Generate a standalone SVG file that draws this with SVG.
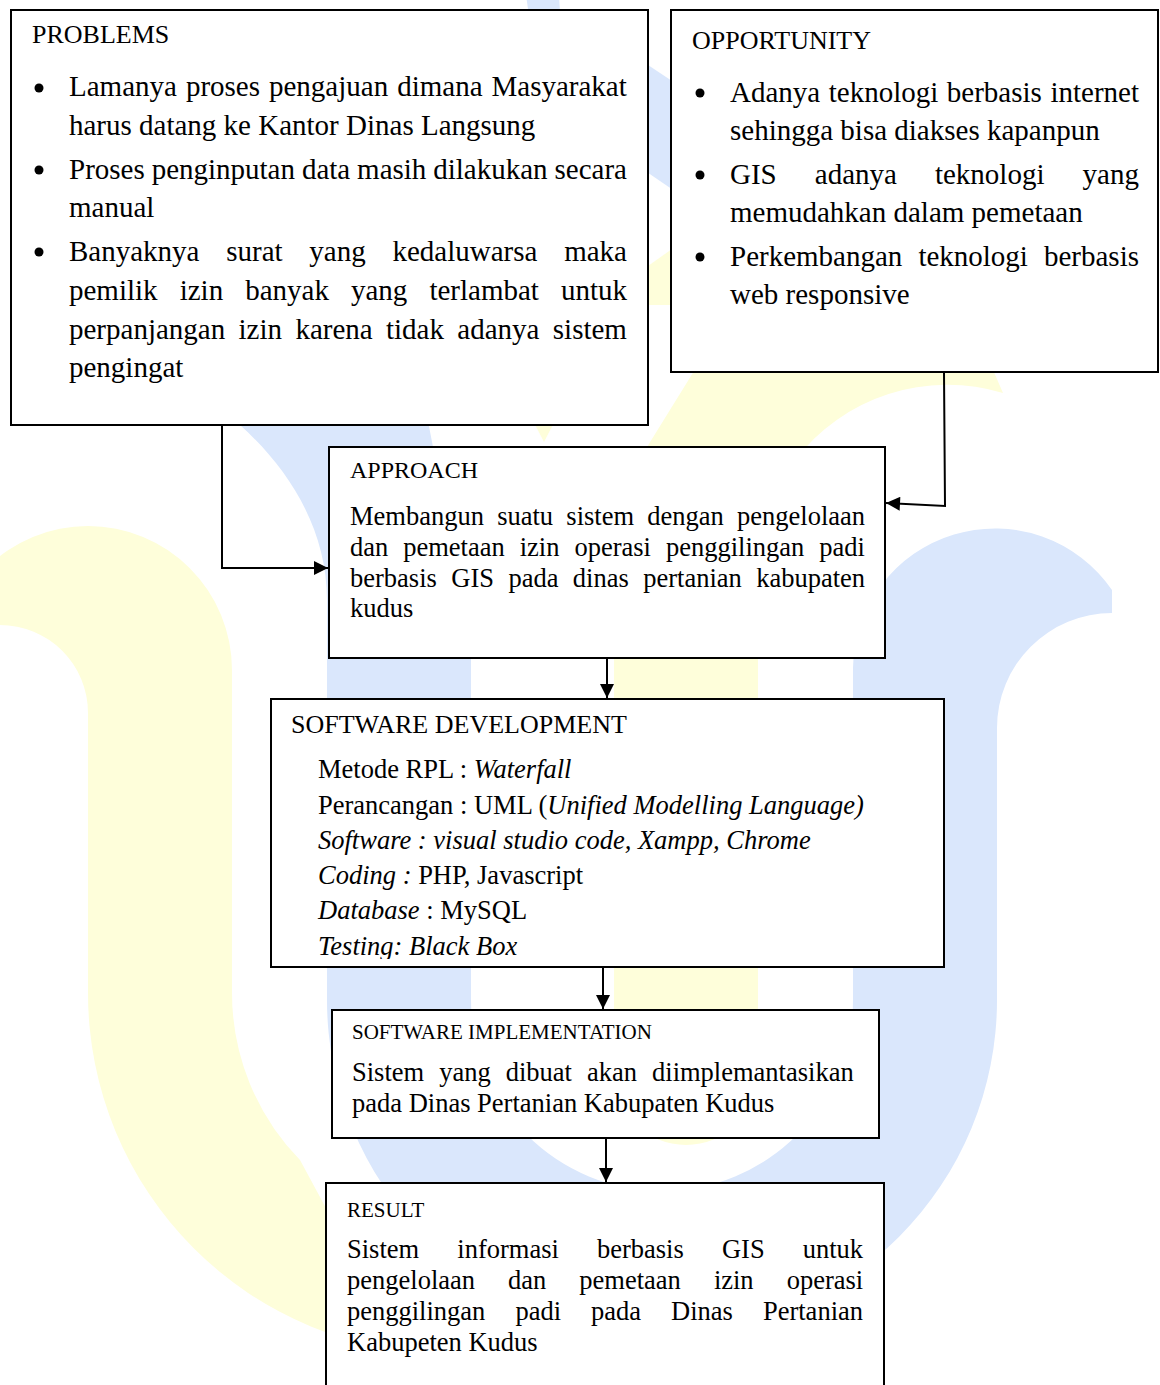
<svg xmlns="http://www.w3.org/2000/svg" width="1160" height="1385" viewBox="0 0 1160 1385">
<defs>
<style>
.box{fill:#fff;stroke:#000;stroke-width:2}
.t{font-family:"Liberation Serif","Times New Roman",serif;fill:#000}
.h1{font-size:26px}
.h2{font-size:24px}
.h3{font-size:21px}
.b1{font-size:29px}
.b2{font-size:26.5px}
.i{font-style:italic}
.c{fill:none;stroke:#000;stroke-width:2}
.wb{fill:#DAE7FC}
.wy{fill:#FEFEDA}
</style>
<marker id="ah" viewBox="0 0 10 10" refX="10" refY="5" markerWidth="8" markerHeight="7" markerUnits="strokeWidth" orient="auto"><path d="M0,0 L10,5 L0,10 Z" fill="#000"/></marker>
<clipPath id="devclip"><rect x="272" y="700" width="671" height="259"/></clipPath>
</defs>
<rect width="1160" height="1385" fill="#fff"/>
<g id="watermark">
<path class="wy" d="M88,993 A361,361 0 0 0 449,1354 L327,1210 L300,1160 A239,239 0 0 1 232,993 L232,670 A144,144 0 0 0 -56,670 L-88,713 A88,88 0 0 1 88,713 Z"/>
<path class="wy" d="M639,460 L699,363 L990,363 L1003,393 A192,192 0 0 0 795,460 Z"/>
<path class="wy" d="M614,600 L758,600 L758,1073 A72,72 0 0 1 614,1073 Z"/>
<path class="wy" d="M512,380 L576,380 L544,442 Z"/>
<path class="wy" d="M600,300 L720,215 L720,305 L600,305 Z"/>
<path class="wb" d="M526,-5 L559,-5 L561,30 L531,30 Z"/>
<path class="wb" d="M600,33 L720,113 L720,222 L600,140 Z"/>
<path class="wb" d="M853,668 A142,142 0 0 1 1112,590 L1112,613 A115,115 0 0 0 997,728 L997,1000 A335,335 0 0 1 327,1000 L327,600 C327,530 290,470 240,425 L200,380 L420,380 L433,447 C455,500 471,580 471,660 L471,1000 A191,191 0 0 0 853,1000 Z"/>
</g>
<g id="connectors">
<path class="c" d="M222,425 V568 H328" marker-end="url(#ah)"/>
<path class="c" d="M944,372 L945,506 L886,503" marker-end="url(#ah)"/>
<path class="c" d="M607,658 V698" marker-end="url(#ah)"/>
<path class="c" d="M603,967 V1009" marker-end="url(#ah)"/>
<path class="c" d="M606,1138 V1182" marker-end="url(#ah)"/>
</g>
<g id="problems">
<rect class="box" x="11" y="10" width="637" height="415"/>
<text class="t h1" x="32" y="43">PROBLEMS</text>
<circle cx="39" cy="88" r="4.5"/>
<circle cx="39" cy="170" r="4.5"/>
<circle cx="39" cy="252" r="4.5"/>
<text class="t b1" x="69" y="96" style="word-spacing:1.75px">Lamanya proses pengajuan dimana Masyarakat</text>
<text class="t b1" x="69" y="135">harus datang ke Kantor Dinas Langsung</text>
<text class="t b1" x="69" y="179" style="word-spacing:-0.35px">Proses penginputan data masih dilakukan secara</text>
<text class="t b1" x="69" y="217">manual</text>
<text class="t b1" x="69" y="261" style="word-spacing:19.5px">Banyaknya surat yang kedaluwarsa maka</text>
<text class="t b1" x="69" y="300" style="word-spacing:14.8px">pemilik izin banyak yang terlambat untuk</text>
<text class="t b1" x="69" y="339" style="word-spacing:6.1px">perpanjangan izin karena tidak adanya sistem</text>
<text class="t b1" x="69" y="377">pengingat</text>
</g>
<g id="opportunity">
<rect class="box" x="671" y="10" width="487" height="362"/>
<text class="t h1" x="692" y="49">OPPORTUNITY</text>
<circle cx="700" cy="93" r="4.5"/>
<circle cx="700" cy="175" r="4.5"/>
<circle cx="700" cy="257" r="4.5"/>
<text class="t b1" x="730" y="102" style="word-spacing:1.3px">Adanya teknologi berbasis internet</text>
<text class="t b1" x="730" y="140">sehingga bisa diakses kapanpun</text>
<text class="t b1" x="730" y="184" style="word-spacing:30.8px">GIS adanya teknologi yang</text>
<text class="t b1" x="730" y="222">memudahkan dalam pemetaan</text>
<text class="t b1" x="730" y="266" style="word-spacing:8.8px">Perkembangan teknologi berbasis</text>
<text class="t b1" x="730" y="304">web responsive</text>
</g>
<g id="approach">
<rect class="box" x="329" y="447" width="556" height="211"/>
<text class="t h2" x="350" y="478">APPROACH</text>
<text class="t b2" x="350" y="525" style="word-spacing:6.6px">Membangun suatu sistem dengan pengelolaan</text>
<text class="t b2" x="350" y="556" style="word-spacing:8.35px">dan pemetaan izin operasi penggilingan padi</text>
<text class="t b2" x="350" y="587" style="word-spacing:7.8px">berbasis GIS pada dinas pertanian kabupaten</text>
<text class="t b2" x="350" y="617">kudus</text>
</g>
<g id="software-development">
<rect class="box" x="271" y="699" width="673" height="268"/>
<text class="t h1" x="291" y="733">SOFTWARE DEVELOPMENT</text>
<text class="t b2" x="318" y="778">Metode RPL : <tspan class="i">Waterfall</tspan></text>
<text class="t b2" x="318" y="814">Perancangan : UML (<tspan class="i">Unified Modelling Language)</tspan></text>
<text class="t b2 i" x="318" y="849">Software : visual studio code, Xampp, Chrome</text>
<text class="t b2" x="318" y="884"><tspan class="i">Coding :</tspan> PHP, Javascript</text>
<text class="t b2" x="318" y="919"><tspan class="i">Database</tspan> : MySQL</text>
<text class="t b2 i" x="318" y="955" clip-path="url(#devclip)">Testing: Black Box</text>
</g>
<g id="software-implementation">
<rect class="box" x="332" y="1010" width="547" height="128"/>
<text class="t h3" x="352" y="1039">SOFTWARE IMPLEMENTATION</text>
<text class="t b2" x="352" y="1081" style="word-spacing:8.4px">Sistem yang dibuat akan diimplemantasikan</text>
<text class="t b2" x="352" y="1112">pada Dinas Pertanian Kabupaten Kudus</text>
</g>
<g id="result">
<rect class="box" x="326" y="1183" width="558" height="215"/>
<text class="t h3" x="347" y="1217">RESULT</text>
<text class="t b2" x="347" y="1258" style="word-spacing:31.5px">Sistem informasi berbasis GIS untuk</text>
<text class="t b2" x="347" y="1289" style="word-spacing:26.4px">pengelolaan dan pemetaan izin operasi</text>
<text class="t b2" x="347" y="1320" style="word-spacing:23.4px">penggilingan padi pada Dinas Pertanian</text>
<text class="t b2" x="347" y="1351">Kabupeten Kudus</text>
</g>
</svg>
